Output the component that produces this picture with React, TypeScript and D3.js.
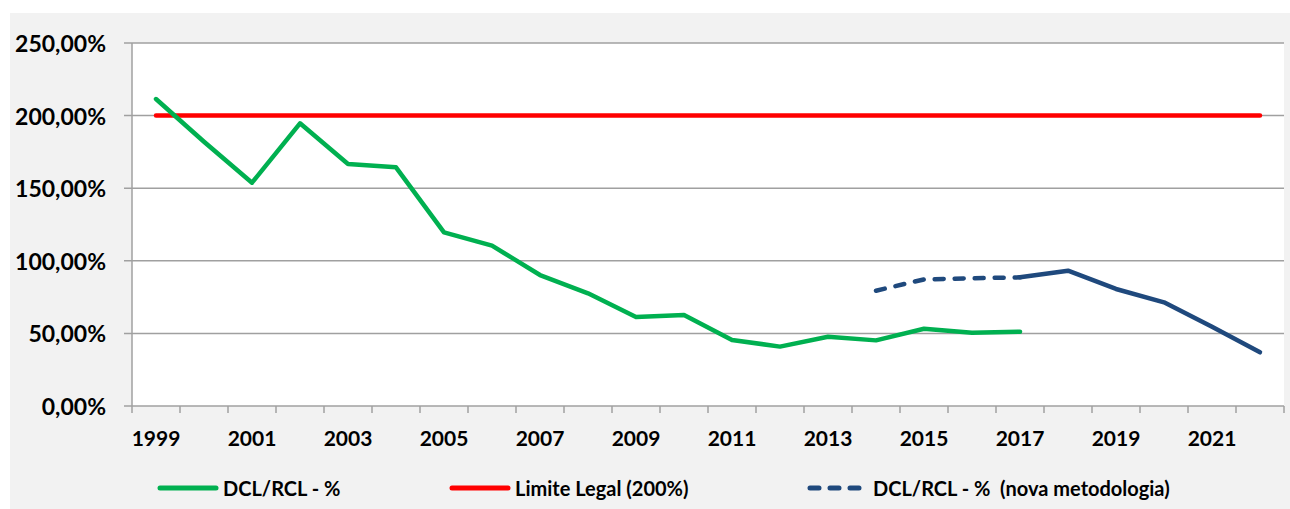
import React from 'react';
import * as d3 from 'd3';

// anos (eixo de categorias)
const years = d3.range(1999, 2023).map(String);
const yearLabels = ['1999', '2001', '2003', '2005', '2007', '2009', '2011', '2013', '2015', '2017', '2019', '2021'];

// DCL/RCL - % (1999-2017)
const dclYears = years.slice(0, 19);
const dclValues = [2.114, 1.82, 1.538, 1.947, 1.667, 1.644, 1.196, 1.104, 0.902, 0.776, 0.613, 0.627,
  0.455, 0.409, 0.477, 0.452, 0.532, 0.505, 0.512];

// Limite legal
const limiteValues = years.map(() => 2.0);

// DCL/RCL - % (nova metodologia) 2014-2022, tracejado ate 2017
const novaYears = ['2014', '2015', '2016', '2017', '2018', '2019', '2020', '2021', '2022'];
const novaValues = [0.794, 0.872, 0.88, 0.886, 0.932, 0.806, 0.714, 0.546, 0.37];
const novaDashedUntil = '2017';

const yTicks = [0, 0.5, 1, 1.5, 2, 2.5];

const legendItems = [
  { label: 'DCL/RCL - %', color: '#00b050', dash: null },
  { label: 'Limite Legal (200%)', color: '#ff0000', dash: null },
  { label: 'DCL/RCL - %  (nova metodologia)', color: '#1f497d', dash: '9 11' },
];

const ptBR = d3.formatLocale({ decimal: ',', thousands: '.', grouping: [3], currency: ['R$', ''] });
const fmtPct = ptBR.format('.2%');

export default function App() {
  const W = 1290, H = 509;
  const left = 132, right = 1284, top = 43, bottom = 406;

  const x = d3.scaleBand().domain(years).range([left, right]).paddingInner(0).paddingOuter(0);
  const y = d3.scaleLinear().domain([0, 2.5]).range([bottom, top]);
  const cx = (yr) => x(yr) + x.bandwidth() / 2;

  const line = d3.line().x((d) => cx(d[0])).y((d) => y(d[1]));

  const dcl = dclYears.map((yr, i) => [yr, dclValues[i]]);
  const lim = years.map((yr, i) => [yr, limiteValues[i]]);
  const nova = novaYears.map((yr, i) => [yr, novaValues[i]]);
  const cut = novaYears.indexOf(novaDashedUntil);
  const novaDashed = nova.slice(0, cut + 1);
  const novaSolid = nova.slice(cut);

  const font = 'Lato, "Open Sans", sans-serif';
  const legendX = [160, 452, 810];
  const legendY = 488;

  return (
    <svg width={W} height={H} style={{ display: 'block', position: 'absolute', left: 0, top: 0 }}>
      <rect x={10} y={13} width={1280} height={496} fill="#f2f2f2" />
      <rect x={left} y={top} width={right - left} height={bottom - top} fill="#ffffff" />

      {/* grade horizontal + marcas do eixo y */}
      {yTicks.map((t) => (
        <line key={'g' + t} x1={left - 8} x2={right} y1={y(t)} y2={y(t)} stroke="#a0a0a0" strokeWidth={1.5} />
      ))}
      <line x1={left} x2={left} y1={top} y2={bottom + 7} stroke="#a0a0a0" strokeWidth={1.5} />
      {years.map((yr) => (
        <line key={'t' + yr} x1={x(yr) + x.bandwidth()} x2={x(yr) + x.bandwidth()} y1={bottom} y2={bottom + 7}
          stroke="#a0a0a0" strokeWidth={1.5} />
      ))}

      {yTicks.map((t) => (
        <text key={'yl' + t} x={106} y={y(t)} textAnchor="end" dominantBaseline="central"
          fontFamily={font} fontWeight="bold" fontSize={23} fill="#000">{fmtPct(t)}</text>
      ))}
      {yearLabels.map((yr) => (
        <text key={'xl' + yr} x={cx(yr)} y={437} textAnchor="middle" dominantBaseline="central"
          fontFamily={font} fontWeight="bold" fontSize={21} fill="#000">{yr}</text>
      ))}

      <path d={line(lim)} fill="none" stroke="#ff0000" strokeWidth={4.5} strokeLinecap="round" />
      <path d={line(dcl)} fill="none" stroke="#00b050" strokeWidth={4.5} strokeLinecap="round" strokeLinejoin="round" />
      <path d={line(novaDashed)} fill="none" stroke="#1f497d" strokeWidth={4.5} strokeDasharray="9 11" strokeLinecap="round" />
      <path d={line(novaSolid)} fill="none" stroke="#1f497d" strokeWidth={4.5} strokeLinecap="round" strokeLinejoin="round" />

      {legendItems.map((it, i) => (
        <g key={'lg' + i}>
          <line x1={legendX[i]} x2={legendX[i] + 56} y1={legendY} y2={legendY} stroke={it.color} strokeWidth={5}
            strokeLinecap="round" strokeDasharray={it.dash || undefined} />
          <text x={legendX[i] + 63} y={legendY} dominantBaseline="central" fontFamily={font} fontWeight="bold"
            fontSize={20} fill="#000" style={{ whiteSpace: 'pre' }}>{it.label}</text>
        </g>
      ))}
    </svg>
  );
}
